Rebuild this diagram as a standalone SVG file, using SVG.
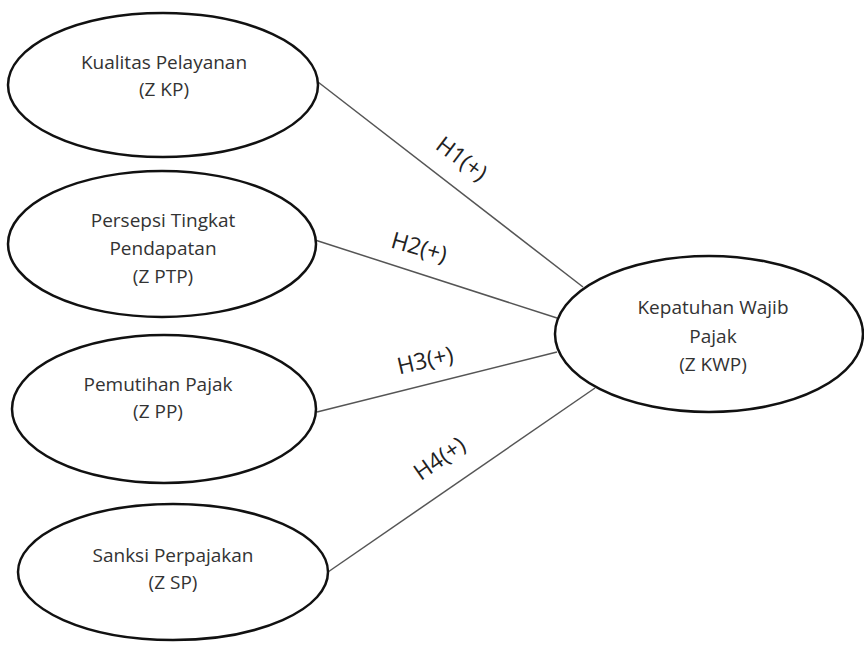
<svg xmlns="http://www.w3.org/2000/svg" width="864" height="645" viewBox="0 0 864 645">
<style>
.node ellipse{fill:#fff;stroke:#111;stroke-width:2.5}
.node text{font-family:"Open Sans","DejaVu Sans",sans-serif;font-size:19px;fill:#333;text-anchor:middle}
.edge line{stroke:#555;stroke-width:1.5}
.lbl{font-family:"Open Sans","DejaVu Sans",sans-serif;font-size:23px;fill:#222;text-anchor:middle}
</style>
<rect width="864" height="645" fill="#fff"/>
<g id="connectors" class="edge">
<line x1="318" y1="82" x2="583" y2="287"/>
<line x1="315" y1="240" x2="557" y2="318"/>
<line x1="317" y1="412" x2="557" y2="352"/>
<line x1="328" y1="572" x2="595" y2="388"/>
<text class="lbl" transform="translate(457,165) rotate(37)">H1(+)</text>
<text class="lbl" transform="translate(417,255) rotate(16)">H2(+)</text>
<text class="lbl" transform="translate(427,368) rotate(-13)">H3(+)</text>
<text class="lbl" transform="translate(444,465) rotate(-35)">H4(+)</text>
</g>
<g id="kp" class="node">
<ellipse cx="163" cy="85" rx="155" ry="72"/>
<text x="164" y="69">Kualitas Pelayanan</text>
<text x="164" y="96">(Z KP)</text>
</g>
<g id="ptp" class="node">
<ellipse cx="162" cy="244" rx="154" ry="73"/>
<text x="163" y="227">Persepsi Tingkat</text>
<text x="163" y="255">Pendapatan</text>
<text x="163" y="283">(Z PTP)</text>
</g>
<g id="pp" class="node">
<ellipse cx="164" cy="409" rx="152" ry="74"/>
<text x="158" y="391">Pemutihan Pajak</text>
<text x="158" y="418">(Z PP)</text>
</g>
<g id="sp" class="node">
<ellipse cx="173" cy="572" rx="155" ry="68"/>
<text x="173" y="562">Sanksi Perpajakan</text>
<text x="173" y="589">(Z SP)</text>
</g>
<g id="kwp" class="node">
<ellipse cx="709" cy="334" rx="154" ry="78"/>
<text x="713" y="314">Kepatuhan Wajib</text>
<text x="713" y="343">Pajak</text>
<text x="713" y="371">(Z KWP)</text>
</g>
</svg>
